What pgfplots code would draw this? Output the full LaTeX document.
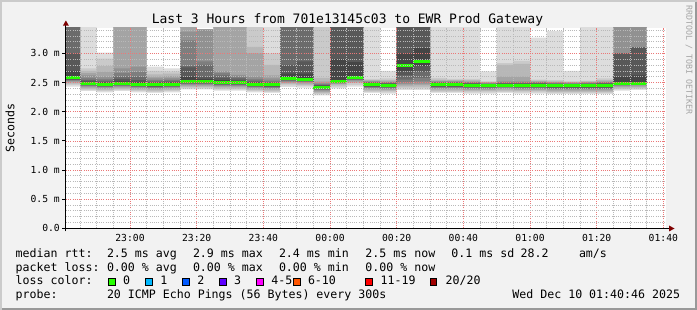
\documentclass[border=0pt]{standalone}
\usepackage{fontspec}
\setmainfont{DejaVu Sans Mono}
\usepackage{pgfplots}
\usepackage{pgfplotstable}
\pgfplotsset{compat=1.18}
\definecolor{bgc}{RGB}{242,242,242}
\definecolor{shadea}{RGB}{203,203,203}
\definecolor{shadeb}{RGB}{153,153,153}
\definecolor{arrowc}{RGB}{127,0,0}
\definecolor{s1}{RGB}{221,221,221}
\definecolor{s2}{RGB}{202,202,202}
\definecolor{s3}{RGB}{183,183,183}
\definecolor{s4}{RGB}{164,164,164}
\definecolor{s5}{RGB}{145,145,145}
\definecolor{s6}{RGB}{126,126,126}
\definecolor{s7}{RGB}{107,107,107}
\definecolor{s8}{RGB}{88,88,88}
\definecolor{s9}{RGB}{69,69,69}
\definecolor{s10}{RGB}{50,50,50}
\definecolor{lc0}{RGB}{38,255,0}
\definecolor{lc1}{RGB}{0,184,255}
\definecolor{lc2}{RGB}{0,89,255}
\definecolor{lc3}{RGB}{94,0,255}
\definecolor{lc4}{RGB}{255,0,255}
\definecolor{lc5}{RGB}{255,85,0}
\definecolor{lc6}{RGB}{255,0,0}
\definecolor{lc7}{RGB}{161,0,0}
\definecolor{mgrid}{RGB}{235,120,120}
\definecolor{ngrid}{RGB}{185,185,185}

\pgfplotstableread{
t m p1 p2 p3 p4 p5 p6 p7 p8 p9 p10 p11 p12 p13 p14 p15 p16 p17 p18 p19 p20
40 2.58 2.43 2.46 2.48 2.50 2.52 2.53 2.54 2.55 2.56 2.57 2.59 2.70 3.00 3.6 3.6 3.6 3.6 3.6 3.6 3.6
45 2.49 2.35 2.37 2.39 2.41 2.43 2.44 2.45 2.46 2.47 2.48 2.50 2.51 2.53 2.55 2.58 2.62 2.66 2.70 2.74 3.6
50 2.47 2.33 2.35 2.37 2.39 2.41 2.42 2.43 2.44 2.45 2.46 2.48 2.49 2.51 2.53 2.56 2.60 2.68 2.78 2.91 3.01
55 2.49 2.35 2.37 2.39 2.41 2.43 2.44 2.45 2.46 2.47 2.48 2.50 2.52 2.56 2.60 2.66 2.74 3.6 3.6 3.6 3.6
60 2.47 2.33 2.35 2.37 2.39 2.41 2.42 2.43 2.44 2.45 2.46 2.48 2.50 2.54 2.60 2.68 2.77 3.6 3.6 3.6 3.6
65 2.46 2.32 2.34 2.36 2.38 2.40 2.41 2.42 2.43 2.44 2.45 2.47 2.48 2.50 2.52 2.54 2.57 2.60 2.64 2.70 2.77
70 2.47 2.33 2.35 2.37 2.39 2.41 2.42 2.43 2.44 2.45 2.46 2.48 2.49 2.51 2.53 2.55 2.58 2.61 2.65 2.69 2.74
75 2.525 2.38 2.40 2.42 2.44 2.46 2.47 2.48 2.49 2.50 2.515 2.535 2.60 2.76 2.78 3.22 3.37 3.6 3.6 3.6 3.6
80 2.525 2.38 2.40 2.42 2.44 2.46 2.47 2.48 2.49 2.50 2.515 2.535 2.56 2.60 2.80 2.86 3.41 3.41 3.41 3.41 3.41
85 2.50 2.36 2.38 2.40 2.42 2.44 2.45 2.46 2.47 2.48 2.49 2.51 2.54 2.58 2.62 2.66 2.69 3.6 3.6 3.6 3.6
90 2.50 2.36 2.38 2.40 2.42 2.44 2.45 2.46 2.47 2.48 2.49 2.51 2.52 2.55 2.58 2.60 2.63 3.6 3.6 3.6 3.6
95 2.47 2.33 2.35 2.37 2.39 2.41 2.42 2.43 2.44 2.45 2.46 2.48 2.49 2.51 2.53 2.56 2.60 3.00 3.11 3.6 3.6
100 2.46 2.32 2.34 2.36 2.38 2.40 2.41 2.42 2.43 2.44 2.45 2.47 2.48 2.49 2.51 2.53 2.57 2.62 2.80 3.00 3.6
105 2.565 2.42 2.45 2.47 2.49 2.51 2.52 2.53 2.54 2.55 2.555 2.575 2.65 2.80 3.6 3.6 3.6 3.6 3.6 3.6 3.6
110 2.55 2.41 2.44 2.46 2.48 2.50 2.51 2.52 2.53 2.54 2.545 2.56 2.65 2.86 3.6 3.6 3.6 3.6 3.6 3.6 3.6
115 2.42 2.28 2.30 2.32 2.34 2.36 2.37 2.38 2.39 2.40 2.41 2.43 2.44 2.45 2.46 2.47 2.49 2.52 2.58 3.6 3.6
120 2.525 2.40 2.43 2.45 2.47 2.48 2.49 2.50 2.51 2.515 2.52 2.53 2.90 3.6 3.6 3.6 3.6 3.6 3.6 3.6 3.6
125 2.58 2.43 2.46 2.49 2.51 2.53 2.54 2.55 2.56 2.57 2.575 2.585 2.85 3.6 3.6 3.6 3.6 3.6 3.6 3.6 3.6
130 2.46 2.32 2.34 2.36 2.38 2.40 2.41 2.42 2.43 2.44 2.45 2.47 2.48 2.49 2.50 2.51 2.52 2.53 2.54 2.56 3.6
135 2.45 2.31 2.33 2.35 2.37 2.39 2.40 2.41 2.42 2.43 2.44 2.46 2.47 2.48 2.49 2.50 2.51 2.52 2.54 2.57 2.70
140 2.79 2.37 2.40 2.43 2.45 2.47 2.50 2.55 2.62 2.70 2.78 2.80 3.00 3.6 3.6 3.6 3.6 3.6 3.6 3.6 3.6
145 2.86 2.37 2.40 2.43 2.46 2.48 2.52 2.58 2.68 2.78 2.85 2.87 3.09 3.6 3.6 3.6 3.6 3.6 3.6 3.6 3.6
150 2.46 2.32 2.34 2.36 2.38 2.40 2.41 2.42 2.43 2.44 2.45 2.47 2.48 2.49 2.50 2.51 2.52 2.53 2.55 2.58 3.6
155 2.46 2.32 2.34 2.36 2.38 2.40 2.41 2.42 2.43 2.44 2.45 2.47 2.48 2.49 2.50 2.51 2.52 2.53 2.54 2.56 3.6
160 2.45 2.31 2.33 2.35 2.37 2.39 2.40 2.41 2.42 2.43 2.44 2.46 2.47 2.48 2.49 2.50 2.51 2.52 2.54 2.56 3.6
165 2.45 2.31 2.33 2.35 2.37 2.39 2.40 2.41 2.42 2.43 2.44 2.46 2.465 2.47 2.475 2.48 2.49 2.50 2.51 2.52 2.69
170 2.455 2.32 2.34 2.36 2.38 2.40 2.41 2.42 2.43 2.44 2.45 2.46 2.47 2.48 2.49 2.50 2.52 2.60 2.80 2.83 3.6
175 2.45 2.31 2.33 2.35 2.37 2.39 2.40 2.41 2.42 2.43 2.44 2.46 2.47 2.48 2.49 2.50 2.52 2.60 2.82 2.87 3.6
180 2.45 2.31 2.33 2.35 2.37 2.39 2.40 2.41 2.42 2.43 2.44 2.46 2.47 2.48 2.49 2.50 2.51 2.52 2.53 2.55 3.27
185 2.44 2.30 2.32 2.34 2.36 2.38 2.39 2.40 2.41 2.42 2.43 2.45 2.46 2.47 2.48 2.49 2.50 2.51 2.52 2.54 3.38
190 2.44 2.30 2.32 2.34 2.36 2.38 2.39 2.40 2.41 2.42 2.43 2.45 2.46 2.47 2.475 2.48 2.49 2.50 2.51 2.52 2.70
195 2.44 2.30 2.32 2.34 2.36 2.38 2.39 2.40 2.41 2.42 2.43 2.45 2.46 2.47 2.48 2.49 2.50 2.51 2.52 2.53 3.6
200 2.445 2.30 2.32 2.34 2.36 2.38 2.39 2.40 2.41 2.42 2.435 2.455 2.47 2.48 2.49 2.50 2.51 2.52 2.54 2.57 3.6
205 2.48 2.36 2.38 2.40 2.42 2.44 2.45 2.46 2.47 2.475 2.478 2.49 2.60 3.00 3.00 3.00 3.6 3.6 3.6 3.6 3.6
210 2.49 2.37 2.39 2.41 2.43 2.45 2.46 2.47 2.48 2.485 2.487 2.50 2.62 3.10 3.10 3.10 3.6 3.6 3.6 3.6 3.6
215 2.49 2.37 2.39 2.41 2.43 2.45 2.46 2.47 2.48 2.485 2.487 2.50 2.62 3.10 3.10 3.10 3.6 3.6 3.6 3.6 3.6
}\pings

\begin{document}
\begin{tikzpicture}
\useasboundingbox (0pt,0pt) rectangle (697pt,310pt);
\begin{scope}[x=1pt,y=1pt]
\fill[bgc] (0,0) rectangle (697,310);
\fill[shadea] (0,0) rectangle (2,310);
\fill[shadea] (0,308) rectangle (697,310);
\fill[shadeb] (695,0) rectangle (697,308);
\fill[shadeb] (2,0) rectangle (697,2);
\end{scope}
\begin{axis}[
  at={(65.9pt,81.7pt)}, anchor=south west, scale only axis,
  width=600pt, height=200.3pt,
  xmin=40.767, xmax=220.767, ymin=0, ymax=3.434,
  axis on top, axis line style={draw=none},
  axis background/.style={fill=white},
  no markers,
  xtick={60,80,...,220},
  xticklabels={23:00,23:20,23:40,00:00,00:20,00:40,01:00,01:20,01:40},
  minor xtick={45,50,55,65,70,75,85,90,95,105,110,115,125,130,135,145,150,155,165,170,175,185,190,195,205,210,215},
  ytick={0,0.5,1,1.5,2,2.5,3},
  yticklabels={0.0,0.5 m,1.0 m,1.5 m,2.0 m,2.5 m,3.0 m},
  minor ytick={0.1,0.2,0.3,0.4,0.6,0.7,0.8,0.9,1.1,1.2,1.3,1.4,1.6,1.7,1.8,1.9,2.1,2.2,2.3,2.4,2.6,2.7,2.8,2.9,3.1,3.2,3.3,3.4},
  major tick length=0pt, minor tick length=0pt,
  grid=both,
  major grid style={draw=mgrid, line width=0.6pt, dash pattern=on 1pt off 1.2pt},
  minor grid style={draw=ngrid, line width=0.6pt, dash pattern=on 1pt off 1.2pt},
  ticklabel style={font=\fontsize{9.7}{11}\selectfont, inner sep=0pt},
  xticklabel style={anchor=north, yshift=-5.8pt},
  yticklabel style={anchor=east, xshift=-5.9pt},
]
\addplot[const plot, fill=s1, draw=none] table[x=t,y=p20]{\pings} \closedcycle;
\addplot[const plot, fill=s2, draw=none] table[x=t,y=p19]{\pings} \closedcycle;
\addplot[const plot, fill=s3, draw=none] table[x=t,y=p18]{\pings} \closedcycle;
\addplot[const plot, fill=s4, draw=none] table[x=t,y=p17]{\pings} \closedcycle;
\addplot[const plot, fill=s5, draw=none] table[x=t,y=p16]{\pings} \closedcycle;
\addplot[const plot, fill=s6, draw=none] table[x=t,y=p15]{\pings} \closedcycle;
\addplot[const plot, fill=s7, draw=none] table[x=t,y=p14]{\pings} \closedcycle;
\addplot[const plot, fill=s8, draw=none] table[x=t,y=p13]{\pings} \closedcycle;
\addplot[const plot, fill=s9, draw=none] table[x=t,y=p12]{\pings} \closedcycle;
\addplot[const plot, fill=s10, draw=none] table[x=t,y=p11]{\pings} \closedcycle;
\addplot[const plot, fill=s9, draw=none] table[x=t,y=p10]{\pings} \closedcycle;
\addplot[const plot, fill=s8, draw=none] table[x=t,y=p9]{\pings} \closedcycle;
\addplot[const plot, fill=s7, draw=none] table[x=t,y=p8]{\pings} \closedcycle;
\addplot[const plot, fill=s6, draw=none] table[x=t,y=p7]{\pings} \closedcycle;
\addplot[const plot, fill=s5, draw=none] table[x=t,y=p6]{\pings} \closedcycle;
\addplot[const plot, fill=s4, draw=none] table[x=t,y=p5]{\pings} \closedcycle;
\addplot[const plot, fill=s3, draw=none] table[x=t,y=p4]{\pings} \closedcycle;
\addplot[const plot, fill=s2, draw=none] table[x=t,y=p3]{\pings} \closedcycle;
\addplot[const plot, fill=s1, draw=none] table[x=t,y=p2]{\pings} \closedcycle;
\addplot[const plot, fill=white, draw=none] table[x=t,y=p1]{\pings} \closedcycle;
\addplot[jump mark left, draw=lc0, line width=3pt] table[x=t,y=m]{\pings};
\end{axis}
\begin{scope}[x=1pt,y=1pt]
% axis lines and arrows
\draw[black, line width=1pt] (62,81.5) -- (670,81.5);
\draw[black, line width=1pt] (65.9,78.5) -- (65.9,285);
\fill[arrowc] (669,84.5) -- (674.5,81.5) -- (669,78.5) -- cycle;
\fill[arrowc] (62.9,284.3) -- (65.9,289.5) -- (68.9,284.3) -- cycle;
\foreach \v in {0,29.17,58.33,87.5,116.67,145.83,175} {\draw[black, line width=0.8pt] (62,81.7+\v) -- (65.9,81.7+\v);}
% titles
\node[anchor=base, inner sep=0pt, font=\fontsize{13}{15}\selectfont] at (347.5,286.7) {Last 3 Hours from 701e13145c03 to EWR Prod Gateway};
\node[rotate=90, inner sep=0pt, font=\fontsize{11.6}{13}\selectfont] at (10,182) {Seconds};
\node[rotate=-90, inner sep=0pt, text={rgb,255:red,165;green,165;blue,165}, font=\fontsize{8.3}{9}\selectfont] at (689,250) {RRDTOOL / TOBI OETIKER};
% legend
\begin{scope}[every node/.style={anchor=base west, inner sep=0pt, font=\fontsize{11.6}{13}\selectfont}]
\node at (15.5,52) {median rtt:};
\node at (106.8,52) {2.5~ms~avg};
\node at (192.8,52) {2.9~ms~max};
\node at (278.8,52) {2.4~ms~min};
\node at (365.2,52) {2.5~ms~now};
\node at (451.2,52) {0.1~ms~sd};
\node at (520.5,52) {28.2};
\node at (578.8,52) {am/s};
\node at (15.5,38.3) {packet loss:};
\node at (106.8,38.3) {0.00~\%~avg};
\node at (192.8,38.3) {0.00~\%~max};
\node at (278.8,38.3) {0.00~\%~min};
\node at (365.2,38.3) {0.00~\%~now};
\node at (15.5,25) {loss color:};
\node at (122.8,25) {0};
\node at (160.2,25) {1};
\node at (197.2,25) {2};
\node at (233.8,25) {3};
\node at (271.2,25) {4-5};
\node at (307.8,25) {6-10};
\node at (380.5,25) {11-19};
\node at (445.5,25) {20/20};
\node at (15.5,11.7) {probe:};
\node at (106.8,11.7) {20 ICMP Echo Pings (56 Bytes) every 300s};
\node at (512.2,11.7) {Wed Dec 10 01:40:46 2025};
\end{scope}
\foreach \xx/\cc in {108.7/lc0,145.7/lc1,182.7/lc2,219.7/lc3,256.7/lc4,293.7/lc5,365.7/lc6,430.3/lc7}
  {\filldraw[fill=\cc, draw=black, line width=0.8pt] (\xx,24.5) rectangle ++(6.5,7);}
\end{scope}
\end{tikzpicture}
\end{document}
